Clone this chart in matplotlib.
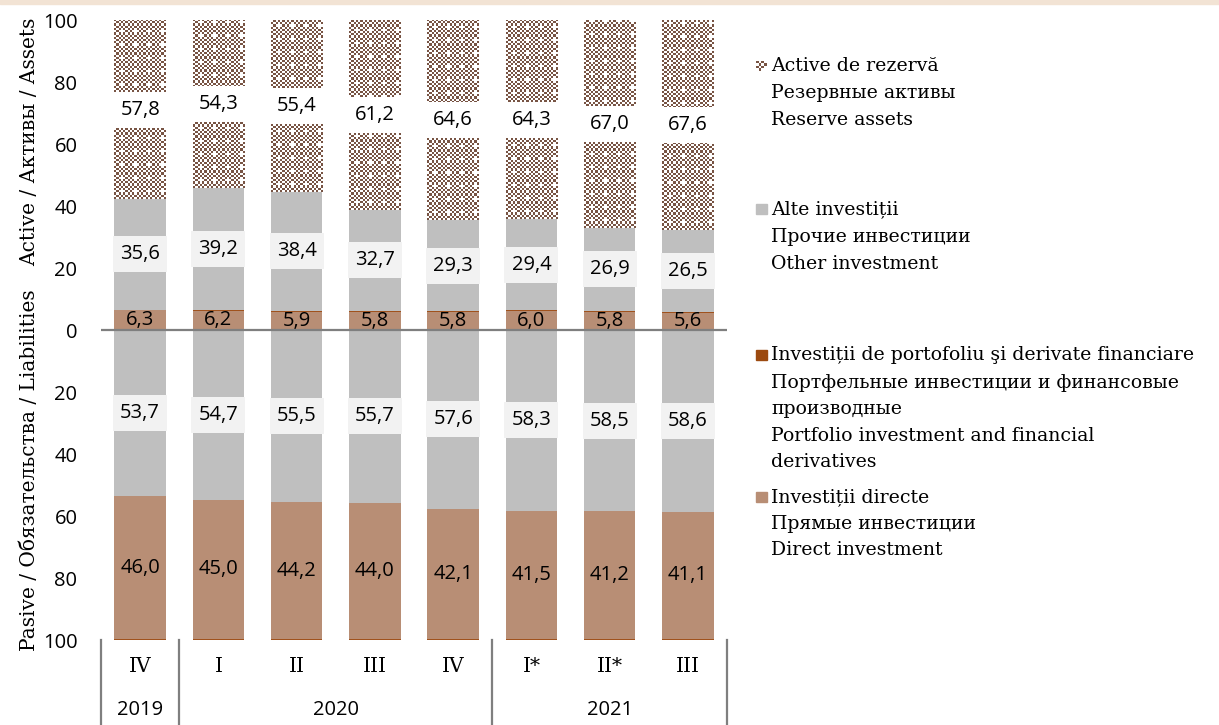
import numpy as np
import matplotlib
matplotlib.use('Agg')
import matplotlib.pyplot as plt
from matplotlib.patches import Rectangle
import matplotlib.transforms as mtransforms

# ---------------- data ----------------
quarters = ['IV', 'I', 'II', 'III', 'IV', 'I*', 'II*', 'III']
years = ['2019', '2020', '2021']
year_first = [0, 1, 5]
year_last = [0, 4, 7]

asset_direct = [6.3, 6.2, 5.9, 5.8, 5.8, 6.0, 5.8, 5.6]
asset_portfolio = [0.3, 0.3, 0.3, 0.3, 0.3, 0.3, 0.3, 0.3]
asset_other = [35.6, 39.2, 38.4, 32.7, 29.3, 29.4, 26.9, 26.5]
asset_reserve = [57.8, 54.3, 55.4, 61.2, 64.6, 64.3, 67.0, 67.6]

liab_other = [53.7, 54.7, 55.5, 55.7, 57.6, 58.3, 58.5, 58.6]
liab_direct = [46.0, 45.0, 44.2, 44.0, 42.1, 41.5, 41.2, 41.1]
liab_portfolio = [0.3, 0.3, 0.3, 0.3, 0.3, 0.2, 0.3, 0.3]

yticks = [-100, -80, -60, -40, -20, 0, 20, 40, 60, 80, 100]

legend_entries = [
    ('reserve', ['Active de rezervă', 'Резервные активы', 'Reserve assets']),
    ('other', ['Alte investiții', 'Прочие инвестиции', 'Other investment']),
    ('portfolio', ['Investiții de portofoliu şi derivate financiare',
                   'Портфельные инвестиции и финансовые', 'производные',
                   'Portfolio investment and financial', 'derivatives']),
    ('direct', ['Investiții directe', 'Прямые инвестиции', 'Direct investment']),
]

# ---------------- style ----------------
C_DIRECT = '#B88E75'
C_PORT = '#A0521D'
C_PORT_LEG = '#9C4A10'
C_OTHER = '#BFBFBF'
C_RES = np.array([120, 84, 68]) / 255.0
C_BOX = '#F2F2F2'
SERIF = ['DejaVu Serif']
SANS = ['Open Sans', 'DejaVu Sans']
FS_SERIF = 14.5
FS_LEG = 13.6
FS_SANS = 14.5
W, H = 1219, 725

fig = plt.figure(figsize=(W / 100, H / 100), dpi=100)
fig.patches.append(Rectangle((0, 1 - 4 / H), 1, 4 / H, transform=fig.transFigure,
                             color='#F2E3D4', zorder=0))
ax = fig.add_axes([101 / W, 85 / H, 626 / W, 620 / H])
ax.set_xlim(-0.5, 7.5)
ax.set_ylim(-100, 100)

x = np.arange(len(quarters))
bw = 0.66

ad = np.array(asset_direct); ap = np.array(asset_portfolio)
ao = np.array(asset_other); ar = np.array(asset_reserve)
lo = np.array(liab_other); ld = np.array(liab_direct); lp = np.array(liab_portfolio)

ax.bar(x, ad, bw, color=C_DIRECT, zorder=2)
ax.bar(x, ap, bw, bottom=ad, color=C_PORT, zorder=2)
ax.bar(x, ao, bw, bottom=ad + ap, color=C_OTHER, zorder=2)
res_bars = ax.bar(x, ar, bw, bottom=ad + ap + ao, facecolor='none', edgecolor='none', zorder=2)

ax.bar(x, -lo, bw, color=C_OTHER, zorder=2)
ax.bar(x, -ld, bw, bottom=-lo, color=C_DIRECT, zorder=2)
ax.bar(x, -lp, bw, bottom=-(lo + ld), color=C_PORT, zorder=2)


def checker(nx, ny):
    i, j = np.indices((ny, nx))
    img = np.ones((ny, nx, 3))
    img[(i + j) % 2 == 0] = C_RES
    dots = ((i % 6 == 3) & (j % 6 == 3))
    img[dots] = 1.0
    return img


cell = 2.2
for p in res_bars:
    x0, y0, w, h = p.get_x(), p.get_y(), p.get_width(), p.get_height()
    p0 = ax.transData.transform((x0, y0))
    p1 = ax.transData.transform((x0 + w, y0 + h))
    nx = max(1, int(round(abs(p1[0] - p0[0]) / cell)))
    ny = max(1, int(round(abs(p1[1] - p0[1]) / cell)))
    ax.imshow(checker(nx, ny), extent=(x0, x0 + w, y0, y0 + h), origin='lower',
              interpolation='nearest', aspect='auto', zorder=2)

ax.set_xlim(-0.5, 7.5)
ax.set_ylim(-100, 100)

# label boxes + labels
box_h = 11.6


def fmt(v):
    return f'{v:.1f}'.replace('.', ',')


def boxed(xs, centers, vals, fc):
    ax.bar(xs, box_h, bw + 0.03, bottom=np.array(centers) - box_h / 2, color=fc, zorder=3)
    for xi, c, v in zip(xs, centers, vals):
        ax.text(xi, c, fmt(v), ha='center', va='center', fontsize=FS_SANS, family=SANS, zorder=4)


boxed(x, ad + ap + ao + ar / 2, ar, 'white')
boxed(x, ad + ap + ao / 2, ao, C_BOX)
boxed(x, -lo / 2, lo, C_BOX)
for xi, c, v in zip(x, ad / 2, ad):
    ax.text(xi, c, fmt(v), ha='center', va='center', fontsize=FS_SANS, family=SANS, zorder=4)
for xi, c, v in zip(x, -(lo + ld / 2), ld):
    ax.text(xi, c, fmt(v), ha='center', va='center', fontsize=FS_SANS, family=SANS, zorder=4)

ax.axhline(0, color='#7F7F7F', lw=1.6, zorder=5)

for s in ax.spines.values():
    s.set_visible(False)
ax.set_yticks(yticks)
ax.set_yticklabels([str(abs(t)) for t in yticks], fontsize=FS_SANS, family=SANS)
ax.tick_params(axis='y', length=0, pad=17)
ax.set_xticks([])

# category axis
trans = mtransforms.blended_transform_factory(ax.transData, ax.transAxes)
for xi, q in zip(x, quarters):
    ax.text(xi, -26 / 620, q, transform=trans, ha='center', va='center',
            fontsize=FS_SERIF, family=SERIF)
for yr, a, b in zip(years, year_first, year_last):
    ax.text((a + b) / 2, -70 / 620, yr, transform=trans, ha='center', va='center',
            fontsize=FS_SANS, family=SANS)
for sep in [-0.5, 0.5, 4.5, 7.5]:
    ax.plot([sep, sep], [0, -86 / 620], transform=trans, color='#7F7F7F', lw=1.6,
            clip_on=False)

# axis titles
fig.text(30 / W, 1 - 142 / H, 'Active / Активы / Assets', rotation=90, ha='center',
         va='center', fontsize=FS_SERIF, family=SERIF)
fig.text(30 / W, 1 - 470 / H, 'Pasive / Обязательства / Liabilities', rotation=90,
         ha='center', va='center', fontsize=FS_SERIF, family=SERIF)

# legend
line_y = {
    'reserve': [66, 93, 120],
    'other': [209, 237, 264],
    'portfolio': [355, 383, 409, 436, 462],
    'direct': [497, 524, 550],
}
marker_color = {'other': C_OTHER, 'portfolio': C_PORT_LEG, 'direct': C_DIRECT}
for key, lines in legend_entries:
    ys = line_y[key]
    my = ys[0]
    if key == 'reserve':
        lax = fig.add_axes([756 / W, 1 - (my + 5) / H, 11 / W, 10 / H])
        lax.imshow(checker(4, 4), interpolation='nearest', aspect='auto')
        lax.axis('off')
    else:
        fig.patches.append(Rectangle((756 / W, 1 - (my + 5) / H), 11 / W, 10 / H,
                                     transform=fig.transFigure, color=marker_color[key]))
    for t, yy in zip(lines, ys):
        fig.text(771 / W, 1 - yy / H, t, ha='left', va='center', fontsize=FS_LEG, family=SERIF)

fig.savefig('out.png', dpi=100)
